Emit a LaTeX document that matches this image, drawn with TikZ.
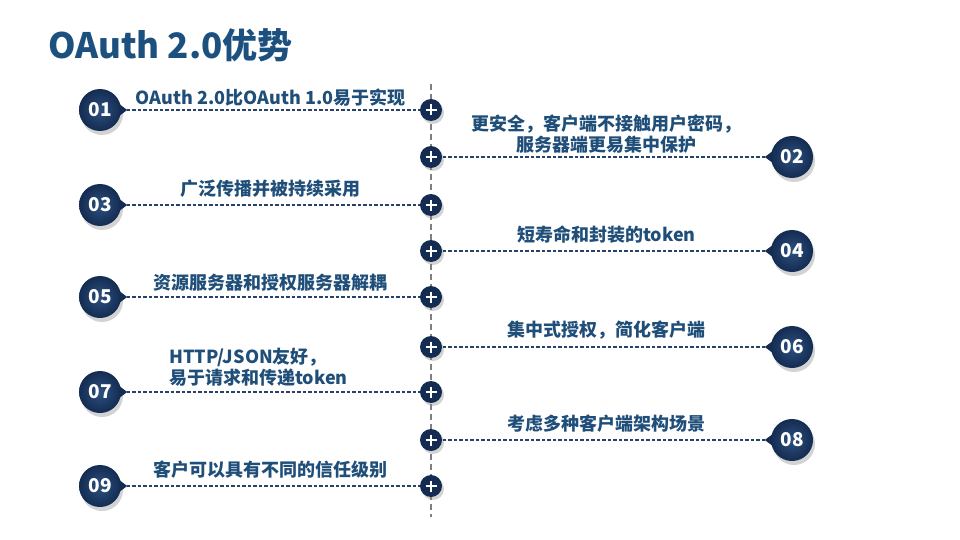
\documentclass[tikz,border=0pt]{standalone}
\usepackage{fontspec}
\setmainfont{Noto Sans CJK SC}
\usetikzlibrary{shadows}
\definecolor{ballblue}{RGB}{20,44,82}
\definecolor{ballhigh}{RGB}{44,80,126}
\definecolor{textblue}{RGB}{31,78,121}
\definecolor{titleblue}{RGB}{28,80,126}
\definecolor{dashblue}{RGB}{38,66,104}
\begin{document}
\begin{tikzpicture}
		[x=1pt,y=-1pt,
		numball/.style={circle,inner sep=0pt,minimum size=42pt,inner color=ballhigh,outer color=ballblue,
text=white,font=\fontsize{19}{19}\selectfont\bfseries,
drop shadow={opacity=0.35,shadow xshift=2pt,shadow yshift=-4pt}},
		plusball/.style={circle,fill=ballblue,inner sep=0pt,minimum size=22pt,
drop shadow={opacity=0.35,shadow xshift=2pt,shadow yshift=-3pt},
path picture={\draw[white,line width=2.6pt]
([xshift=-5.5pt]path picture bounding box.center) -- ([xshift=5.5pt]path picture bounding box.center)
([yshift=-5.5pt]path picture bounding box.center) -- ([yshift=5.5pt]path picture bounding box.center);}},
		labelstyle/.style={above,text=textblue,font=\fontsize{18}{21}\selectfont\bfseries,align=center,inner sep=3pt,yshift=4pt},
		titlestyle/.style={anchor=west,text=titleblue,font=\fontsize{35}{35}\selectfont\bfseries,inner sep=0pt},
		spine/.style={gray,line width=1.8pt,dash pattern=on 6pt off 4pt},
		edgestyle/.style={-,dashblue,line width=1.2pt,dash pattern=on 3.5pt off 2pt}]
		\useasboundingbox (0,0) rectangle (960,540);
		\node at (48,45) (title) [titlestyle] {OAuth 2.0优势};
		\coordinate (top) at (431,84);
		\coordinate (bottom) at (431,517);
		\draw [spine] (top) -- (bottom);
		\node at (431,110) (p1) [plusball] {};
		\node at (100,110) (n1) [numball] {01}
			edge [edgestyle] node[labelstyle,yshift=-4pt] {OAuth 2.0比OAuth 1.0易于实现} (p1);
		\node at (431,157) (p2) [plusball] {};
		\node at (792,157) (n2) [numball] {02}
			edge [edgestyle] node[labelstyle,yshift=-4pt] {更安全，客户端不接触用户密码，\\服务器端更易集中保护} (p2);
		\node at (431,205) (p3) [plusball] {};
		\node at (100,205) (n3) [numball] {03}
			edge [edgestyle] node[labelstyle] {广泛传播并被持续采用} (p3);
		\node at (431,251) (p4) [plusball] {};
		\node at (792,251) (n4) [numball] {04}
			edge [edgestyle] node[labelstyle] {短寿命和封装的token} (p4);
		\node at (431,297) (p5) [plusball] {};
		\node at (100,297) (n5) [numball] {05}
			edge [edgestyle] node[labelstyle,yshift=-2pt] {资源服务器和授权服务器解耦} (p5);
		\node at (431,347) (p6) [plusball] {};
		\node at (792,347) (n6) [numball] {06}
			edge [edgestyle] node[labelstyle] {集中式授权，简化客户端} (p6);
		\node at (431,392) (p7) [plusball] {};
		\node at (100,392) (n7) [numball] {07}
			edge [edgestyle] node[labelstyle,align=left,xshift=-12pt,yshift=-2pt] {HTTP/JSON友好，\\易于请求和传递token} (p7);
		\node at (431,440) (p8) [plusball] {};
		\node at (792,440) (n8) [numball] {08}
			edge [edgestyle] node[labelstyle] {考虑多种客户端架构场景} (p8);
		\node at (431,486) (p9) [plusball] {};
		\node at (100,486) (n9) [numball] {09}
			edge [edgestyle] node[labelstyle] {客户可以具有不同的信任级别} (p9);
		% pointers on the number balls
		\foreach \n in {1,3,5,7,9}
			\fill [ballblue] ([xshift=-2pt,yshift=6pt]n\n.east) -- ([xshift=6pt]n\n.east) -- ([xshift=-2pt,yshift=-6pt]n\n.east) -- cycle;
		\foreach \n in {2,4,6,8}
			\fill [ballblue] ([xshift=2pt,yshift=6pt]n\n.west) -- ([xshift=-6pt]n\n.west) -- ([xshift=2pt,yshift=-6pt]n\n.west) -- cycle;
	\end{tikzpicture}
\end{document}
